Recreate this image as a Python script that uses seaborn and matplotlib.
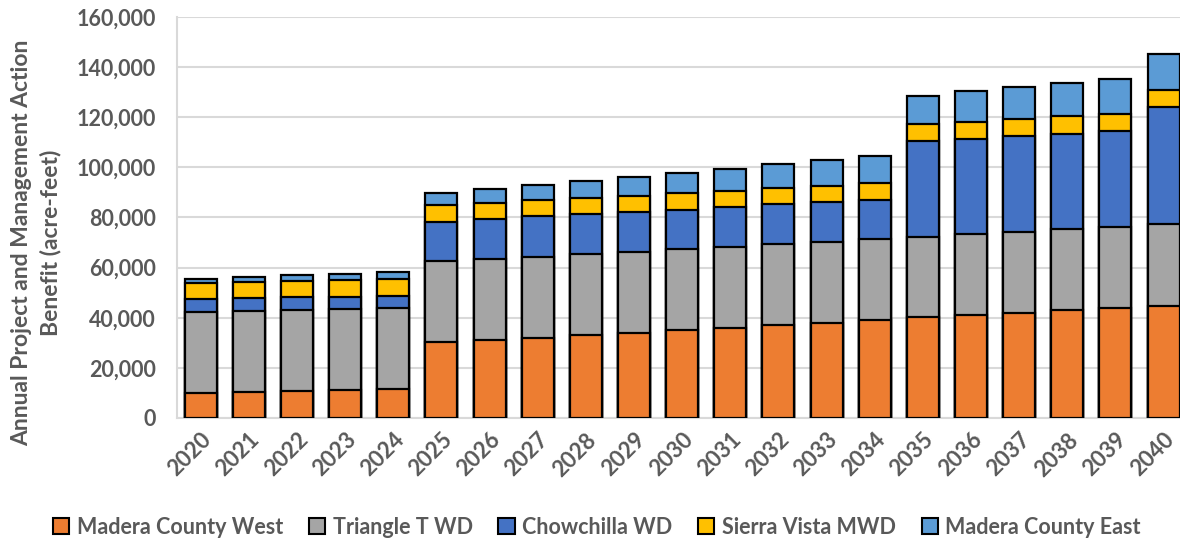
import matplotlib
matplotlib.use("Agg")
import matplotlib.pyplot as plt
from matplotlib.patches import Patch
from matplotlib.ticker import FuncFormatter
import numpy as np
import pandas as pd
import seaborn as sns

# Annual project and management action benefit by area (acre-feet)
years = [str(y) for y in range(2020, 2041)]

madera_west = [10000, 10500, 10900, 11300, 11600,
               30200, 31100, 32100, 33100, 34100, 35000,
               36000, 37100, 38100, 39000,
               40100, 41100, 42000, 43000, 44000, 44800]
triangle_t = [32300, 32300, 32300, 32300, 32300,
              32500, 32500, 32300, 32400, 32200, 32500,
              32300, 32500, 32200, 32400,
              32300, 32350, 32400, 32450, 32400, 32600]
chowchilla = [5000, 5000, 5000, 4800, 4800,
              15700, 15700, 16000, 15800, 15800, 15500,
              15700, 15600, 15800, 15600,
              38300, 38050, 38100, 38050, 38200, 46600]
sierra_vista = [6600, 6600, 6600, 6700, 6700,
                6600, 6650, 6400, 6600, 6600, 6700,
                6650, 6750, 6550, 6700,
                6700, 6800, 6700, 6800, 6800, 6700]
madera_east = [1750, 2000, 2300, 2500, 2800,
               4700, 5350, 6250, 6700, 7550, 8200,
               8650, 9350, 10150, 10900,
               11100, 12000, 12700, 13300, 13800, 14600]

series_names = ["Madera County West", "Triangle T WD", "Chowchilla WD",
                "Sierra Vista MWD", "Madera County East"]
series_values = [madera_west, triangle_t, chowchilla, sierra_vista, madera_east]
colors = ["#ED7D31", "#A5A5A5", "#4472C4", "#FFC000", "#5B9BD5"]

sns.set_theme(style="white")
plt.rcParams["font.family"] = ["Lato", "DejaVu Sans"]
plt.rcParams["font.weight"] = "bold"
text_color = "#595959"

fig = plt.figure(figsize=(11.8, 5.42), dpi=100)
ax = fig.add_axes([176.7 / 1180, 1 - 418 / 542, 1010.9 / 1180, 401 / 542])

# Stacked bars: draw cumulative totals from the top series down
df = pd.DataFrame({name: vals for name, vals in zip(series_names, series_values)}, index=years)
cum = df.cumsum(axis=1)
for name, color in reversed(list(zip(series_names, colors))):
    sns.barplot(x=cum.index, y=cum[name].values, order=years, color=color,
                width=0.665, edgecolor="black", linewidth=1.6, saturation=1,
                ax=ax, zorder=3)

ax.set_xlim(-0.5, len(years) - 0.5)
ax.set_ylim(0, 160000)
ax.set_yticks(np.arange(0, 160001, 20000))
ax.yaxis.set_major_formatter(FuncFormatter(lambda v, p: f"{int(v):,}"))
ax.grid(axis="y", color="#D9D9D9", linewidth=1.5, zorder=0)
ax.set_axisbelow(True)
for side in ["top", "right"]:
    ax.spines[side].set_visible(False)
for side in ["left", "bottom"]:
    ax.spines[side].set_color("#D9D9D9")
    ax.spines[side].set_linewidth(1.5)

ax.tick_params(axis="y", length=0, pad=15, labelsize=15.5, labelcolor=text_color)
ax.tick_params(axis="x", length=0, pad=8, labelsize=16, labelcolor=text_color)
for lab in ax.get_yticklabels():
    lab.set_fontweight("bold")
for lab in ax.get_xticklabels():
    lab.set_fontweight("bold")
    lab.set_rotation(45)
    lab.set_ha("right")
    lab.set_rotation_mode("anchor")
ax.set_xlabel("")
ax.set_ylabel("")

fig.text(36 / 1180, 1 - 243 / 542,
         "Annual Project and Management Action\nBenefit (acre-feet)",
         rotation=90, ha="center", va="center", multialignment="center",
         fontsize=16.5, fontweight="bold", color=text_color, linespacing=1.4)

handles = [Patch(facecolor=c, edgecolor="black", linewidth=1.5) for c in colors]
fig.legend(handles, series_names, loc="center", ncol=5,
           bbox_to_anchor=(597 / 1180, 1 - 527 / 542), frameon=False,
           handlelength=0.75, handleheight=0.75, handletextpad=0.35,
           columnspacing=1.2, prop={"size": 15.5, "weight": "bold"},
           labelcolor=text_color)

fig.savefig("out.png", dpi=100)
